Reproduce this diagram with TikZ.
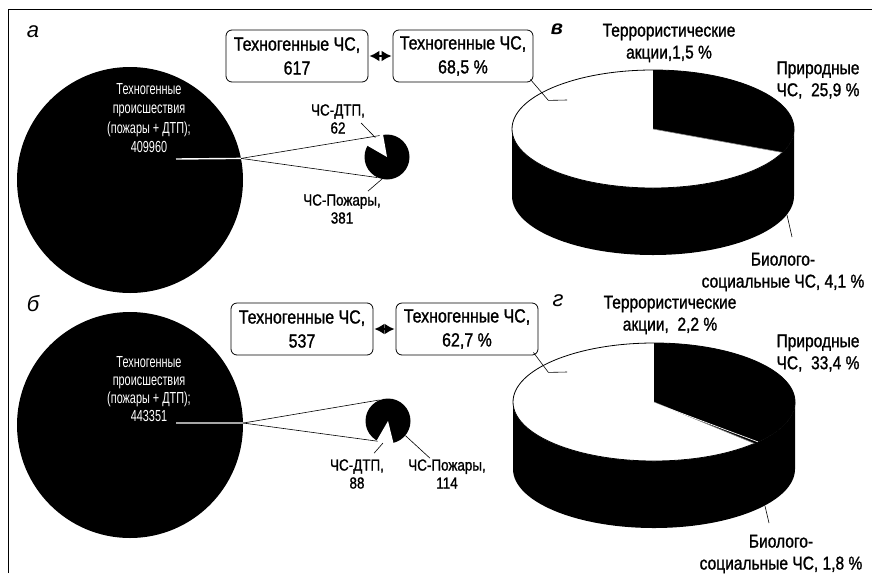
\documentclass[tikz,border=0pt]{standalone}
\usepackage{fontspec}
\setmainfont{Liberation Sans}[FakeStretch=0.84, FakeBold=1.2]
\newfontfamily\thinfont{Liberation Sans}[FakeStretch=0.68]
\newfontfamily\letterfont{Liberation Sans}
\usetikzlibrary{arrows.meta,calc}

\tikzset{
  chsbox/.style={draw, rounded corners=6pt, line width=0.8pt, align=center,
    minimum width=142pt, minimum height=52pt, inner sep=1pt,
    font=\fontsize{19}{24}\selectfont},
  pielabel/.style={align=center, inner sep=2pt, font=\fontsize{18.5}{22}\selectfont},
  chslabel/.style={align=center, inner sep=2pt, font=\fontsize{16}{18}\selectfont},
  circtext/.style={align=center, text=white, inner sep=1pt,
    font=\thinfont\fontsize{16}{19.5}\selectfont},
  panelletter/.style={inner sep=0pt, font=\letterfont\itshape\fontsize{22}{22}\selectfont},
  bigpie/.style={circle, fill, minimum size=226pt, inner sep=0pt},
  smallpie/.style={circle, fill, minimum size=45pt, inner sep=0pt},
  leader/.style={line width=0.6pt},
  twoway/.style={{Latex[length=10pt,width=11pt]}-{Latex[length=10pt,width=11pt]}, line width=2.4pt, shorten <=1pt, shorten >=1pt},
}

\begin{document}
\begin{tikzpicture}[x=1pt, y=1pt]
\useasboundingbox (0,0) rectangle (874,-573);
% frame
\draw[line width=1.8pt] (8.5,-573) -- (8.5,-9.5) -- (872,-9.5);

% a: pie of pie, first period
\node[panelletter] (letA) at (33,-32) {а};
\node[bigpie] (bigA) at (130,-180) {};
\node[circtext] (txtA) at (149,-118) {Техногенные\\происшествия\\(пожары + ДТП);\\409960};
\coordinate (cutA) at (176,-159);
\draw[white, line width=1.4pt] (cutA) -- (bigA.11);
\node[smallpie] (pieA) at (387,-157) {};
\fill[white] (pieA.center) -- ++(100:24) arc[start angle=100, end angle=150, radius=24] -- cycle;
\draw[leader] (bigA.11) -- (pieA.109);
\draw[leader] (bigA.11) -- (pieA.245);
\node[chslabel] (dtpA) at (338,-119) {ЧС-ДТП,\\62};
\draw[leader] ($(dtpA.east)+(-6,-4)$) -- (pieA.121);
\node[chslabel] (fireA) at (342,-209) {ЧС-Пожары,\\381};
\draw[leader] ($(fireA.north east)+(-15,1)$) -- (pieA.257);

\node[chsbox] (numA) at (297,-56) {Техногенные ЧС,\\617};
\node[chsbox, minimum width=140pt] (pctA) at (463,-56) {Техногенные ЧС,\\68,5 \%};
\draw[twoway] (numA) -- (pctA);

% v: 3d pie, first period
\node[panelletter, font=\letterfont\bfseries\itshape\fontsize{20}{20}\selectfont] (letV) at (557,-29) {в};
\begin{scope}[shift={(653,-129)}]
  \fill (-141,0) -- (-141,-67) arc[start angle=180, end angle=360, x radius=141, y radius=59]
    -- (141,0) arc[start angle=0, end angle=-180, x radius=141, y radius=59] -- cycle;
  \filldraw[fill=white, line width=0.8pt] (0,0) ellipse[x radius=141, y radius=59];
  \fill (0,0) -- (0,59) arc[start angle=90, end angle=-23.4, x radius=141, y radius=59] -- cycle;
  \draw[black!45, line width=0.6pt] (0,0) -- (-23.4:141 and 59);
  \coordinate (techV) at (-86,29);
  \coordinate (bioV) at (134,-86);
\end{scope}
\node[pielabel] (terV) at (669,-43) {Террористические\\акции,1,5 \%};
\node[pielabel] (natV) at (818,-80) {Природные\\ЧС,~ 25,9 \%};
\node[pielabel] (bioLblV) at (783,-272) {Биолого-\\социальные ЧС, 4,1 \%};
\draw[leader] ($(pctA.south east)+(-3,3)$) -- ++(18,-21) -- (techV);
\draw[leader] (bioV) -- ++(5,-22);

% b: pie of pie, second period
\node[panelletter] (letB) at (33,-304) {б};
\node[bigpie] (bigB) at (130,-425) {};
\node[circtext, font=\thinfont\fontsize{16}{18}\selectfont] (txtB) at (149,-389) {Техногенные\\происшествия\\(пожары + ДТП);\\443351};
\coordinate (cutB) at (176,-423);
\draw[white, line width=1.4pt] (cutB) -- (bigB.1);
\node[smallpie] (pieB) at (388,-421) {};
\fill[white] (pieB.center) -- ++(240:24) arc[start angle=240, end angle=284, radius=24] -- cycle;
\draw[leader] (bigB.1) -- (pieB.112);
\draw[leader] (bigB.1) -- (pieB.243);
\node[chslabel] (dtpB) at (357,-474) {ЧС-ДТП,\\88};
\draw[leader] ($(dtpB.north east)+(-12,4)$) -- (pieB.257);
\node[chslabel] (fireB) at (447,-474) {ЧС-Пожары,\\114};
\draw[leader] (pieB.320) -- ($(fireB.north)+(-17,-1)$);

\node[chsbox] (numB) at (302,-329) {Техногенные ЧС,\\537};
\node[chsbox] (pctB) at (467,-329) {Техногенные ЧС,\\62,7 \%};
\draw[twoway] (numB) -- (pctB);

% g: 3d pie, second period
\node[panelletter] (letG) at (558,-301) {г};
\begin{scope}[shift={(654,-402)}]
  \fill (-141,0) -- (-141,-67) arc[start angle=180, end angle=360, x radius=141, y radius=59]
    -- (141,0) arc[start angle=0, end angle=-180, x radius=141, y radius=59] -- cycle;
  \filldraw[fill=white, line width=0.8pt] (0,0) ellipse[x radius=141, y radius=59];
  \fill (0,0) -- (0,59) arc[start angle=90, end angle=-44.6, x radius=141, y radius=59] -- cycle;
  \draw[black!45, line width=0.6pt] (0,0) -- (-44.6:141 and 59);
  \draw[white, line width=0.7pt] (0,-1) -- (-42.5:141 and 59);
  \coordinate (techG) at (-87,30);
  \coordinate (bioG) at (111,-104);
\end{scope}
\node[pielabel] (terG) at (670,-315) {Террористические\\акции,~ 2,2 \%};
\node[pielabel] (natG) at (818,-353) {Природные\\ЧС,~ 33,4 \%};
\node[pielabel] (bioLblG) at (781,-554) {Биолого-\\социальные ЧС, 1,8 \%};
\draw[leader] ($(pctB.south east)+(-5,3)$) -- ++(15,-20) -- (techG);
\draw[leader] (bioG) -- ++(4,-17);
\end{tikzpicture}
\end{document}
